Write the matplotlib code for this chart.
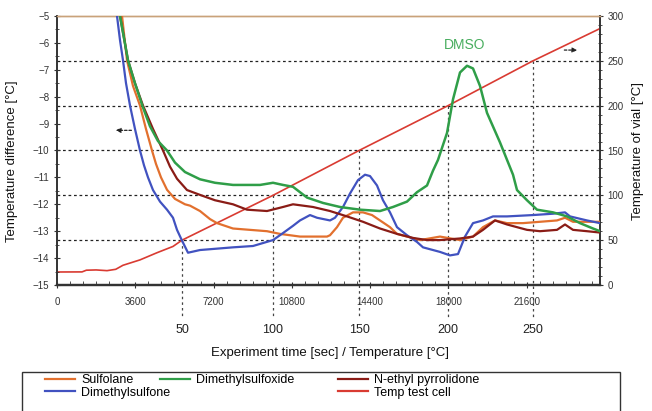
import numpy as np
import matplotlib
matplotlib.use('Agg')
import matplotlib.pyplot as plt
from matplotlib.patches import Rectangle
from matplotlib.lines import Line2D
from matplotlib.ticker import MultipleLocator

plt.rcParams['font.family'] = ['Liberation Sans', 'DejaVu Sans']

# ---- data (time in seconds, temperature difference in degC) ----
sulfolane_t = [2851, 2989, 3219, 3494, 3816, 4092, 4368, 4552, 4782, 5058, 5426, 5885,
               6115, 6575, 7035, 7357, 8092, 9656, 10254,
               11173, 12415, 12553, 12874, 13150, 13610, 14070, 14484, 14852, 15311,
               15633, 16093, 16691, 17610, 18530, 19128, 19587, 20139, 20691, 21427,
               22208, 22990, 23358, 23726, 24967]
sulfolane_y = [-4.5, -5.0, -6.65, -7.6, -8.33, -9.2, -10.0, -10.5, -11.0, -11.46, -11.8, -12.0,
               -12.05, -12.25, -12.55, -12.7, -12.9, -13.0, -13.1,
               -13.2, -13.2, -13.15, -12.85, -12.5, -12.3, -12.3, -12.4, -12.6, -12.85,
               -13.1, -13.2, -13.33, -13.2, -13.33, -13.2, -12.85, -12.6, -12.7, -12.7,
               -12.65, -12.6, -12.5, -12.65, -12.65]

dmso2_t = [2620, 2759, 2897, 3035, 3173, 3357, 3586, 3816, 4000, 4184, 4414, 4736, 5058,
           5334, 5518, 5748, 6023, 6575, 8092,
           9012, 9932, 10391, 10851, 11173, 11633, 11955, 12553, 12782, 13150, 13472,
           13840, 14162, 14392, 14714, 14989, 15311, 15633, 16093, 16553, 16829, 17610,
           18070, 18438, 18760, 19128, 19587, 20047, 20691, 21886, 22806, 23358, 23588,
           24369, 24967]
dmso2_y = [-4.5, -5.0, -5.9, -6.65, -7.5, -8.33, -9.2, -10.0, -10.55, -11.0, -11.47, -11.9, -12.2,
           -12.5, -12.95, -13.35, -13.8, -13.7, -13.6,
           -13.55, -13.33, -13.07, -12.8, -12.6, -12.4, -12.5, -12.6, -12.5, -12.1, -11.6,
           -11.1, -10.9, -10.95, -11.3, -11.85, -12.3, -12.85, -13.15, -13.4, -13.6, -13.77,
           -13.9, -13.85, -13.2, -12.7, -12.6, -12.45, -12.45, -12.4, -12.35, -12.3, -12.45,
           -12.6, -12.7]

dmso_t = [2805, 2897, 3265, 3586, 3954, 4276, 4644, 5058, 5426, 5885, 6575, 7265, 8092,
          9334, 9932, 10391, 10851,
          11495, 12231, 13012, 13932, 14852, 15449, 16093, 16553, 17013, 17288, 17518,
          17932, 18208, 18530, 18852, 19128, 19450, 19771, 20369, 20967, 21151, 21611,
          22070, 22806, 23450, 24048, 24645, 24967]
dmso_y = [-4.5, -5.0, -6.65, -7.5, -8.4, -9.1, -9.65, -10.0, -10.45, -10.8, -11.07, -11.2, -11.28,
          -11.28, -11.2, -11.28, -11.35,
          -11.75, -11.95, -12.1, -12.2, -12.25, -12.1, -11.9, -11.55, -11.3, -10.75, -10.35,
          -9.35, -8.1, -7.1, -6.85, -6.95, -7.6, -8.6, -9.7, -10.9, -11.47, -11.85,
          -12.2, -12.3, -12.45, -12.7, -12.9, -13.0]

nep_t = [2805, 2897, 3265, 3586, 3954, 4414, 4874, 5196, 5518, 5977, 6575, 7265, 8092,
         8736, 9656, 10391, 10851,
         11771, 12553, 13334, 14070, 14852, 15633, 16369, 17013, 17610, 18530, 19128,
         19587, 20139, 20691, 21611, 22208, 22990, 23358, 23726, 24369, 24967]
nep_y = [-4.5, -5.0, -6.65, -7.5, -8.33, -9.2, -10.0, -10.6, -11.05, -11.47, -11.65, -11.85, -12.0,
         -12.2, -12.25, -12.1, -12.0,
         -12.1, -12.25, -12.45, -12.65, -12.9, -13.1, -13.25, -13.33, -13.33, -13.27, -13.2,
         -12.95, -12.6, -12.75, -12.95, -13.0, -12.95, -12.75, -12.95, -13.0, -13.05]

# test cell temperature (right axis, degC)
cell_t = [0, 1150, 1350, 1800, 2300, 2700, 3034, 3816, 4598, 5333, 5748, 9932, 13886,
          17979, 21887, 24967]
cell_T = [14.5, 14.6, 16.5, 16.8, 16.0, 17.5, 22, 28, 36, 43, 50, 100, 150, 200, 250, 286]

time_ticks = [0, 3600, 7200, 10800, 14400, 18000, 21600]
temp_marks = [50, 100, 150, 200, 250]

c_orange = '#e2702e'
c_blue = '#4152c0'
c_green = '#2f9e48'
c_dred = '#8a1c16'
c_red = '#d93b32'

fig = plt.figure(figsize=(6.52, 4.11), dpi=100)
ax = fig.add_axes([57 / 652, 1 - 285 / 411, 543 / 652, 269 / 411])
ax2 = ax.twinx()

ax.set_xlim(0, 24967)
ax.set_ylim(-15, -5)
ax2.set_ylim(0, 300)

# dashed guide lines
for T in temp_marks:
    ax2.axhline(T, color='#222222', lw=0.9, ls=(0, (2.2, 2.2)), zorder=1)
mark_times = np.interp(temp_marks, cell_T, cell_t)
for t, T in zip(mark_times, temp_marks):
    ax2.plot([t, t], [T, -36], color='#444444', lw=0.9, ls=(0, (2, 2.5)),
             clip_on=False, zorder=1)
    ax.text(t, -0.167, str(T), transform=ax.get_xaxis_transform(),
            ha='center', va='center', fontsize=9, color='#222222')

ax2.plot(cell_t, cell_T, color=c_red, lw=1.2, zorder=3)

ax.plot(sulfolane_t, sulfolane_y, color=c_orange, lw=1.6, zorder=4)
ax.plot(dmso2_t, dmso2_y, color=c_blue, lw=1.6, zorder=4)
ax.plot(nep_t, nep_y, color=c_dred, lw=1.6, zorder=4)
ax.plot(dmso_t, dmso_y, color=c_green, lw=1.8, zorder=4)

ax.set_zorder(ax2.get_zorder() + 1)
ax.patch.set_visible(False)

# arrows and annotation
ax.annotate('', xy=(2575, -9.25), xytext=(3550, -9.25),
            arrowprops=dict(arrowstyle='-|>', ls=(0, (2, 1.5)), color='#222222', lw=0.9,
                            mutation_scale=7))
ax2.annotate('', xy=(24048, 262), xytext=(23200, 262),
             arrowprops=dict(arrowstyle='-|>', ls=(0, (2, 1.5)), color='#222222', lw=0.9,
                             mutation_scale=7))
ax.text(18760, -6.08, 'DMSO', color='#48ad5e', fontsize=10, ha='center', va='center')

# ticks
ax.set_xticks(time_ticks)
ax.xaxis.set_minor_locator(MultipleLocator(600))
ax.set_yticks(np.arange(-15, -4.5, 1))
ax.yaxis.set_minor_locator(MultipleLocator(0.5))
ax2.set_yticks(np.arange(0, 301, 50))
ax2.yaxis.set_minor_locator(MultipleLocator(10))
ax.tick_params(axis='x', which='major', direction='inout', length=5, labelsize=7,
               colors='#333333', pad=6)
ax.tick_params(axis='x', which='minor', direction='in', length=3, color='#333333')
ax.tick_params(axis='y', which='major', direction='inout', length=5, labelsize=7,
               colors='#333333', pad=3)
ax.tick_params(axis='y', which='minor', direction='inout', length=3, color='#333333')
ax2.tick_params(axis='y', which='major', direction='inout', length=5, labelsize=7,
                colors='#333333', pad=3)
ax2.tick_params(axis='y', which='minor', direction='inout', length=3, color='#333333')

for a in (ax, ax2):
    a.spines['top'].set_color('#c9a27a')
    a.spines['top'].set_linewidth(1.0)
    a.spines['bottom'].set_color('#333333')
    a.spines['bottom'].set_linewidth(1.6)
    a.spines['left'].set_color('#333333')
    a.spines['left'].set_linewidth(1.2)
    a.spines['right'].set_color('#333333')
    a.spines['right'].set_linewidth(1.2)

ax.text(0.503, -0.253, 'Experiment time [sec] / Temperature [\u00b0C]',
        transform=ax.transAxes, ha='center', va='center', fontsize=9.5, color='#111111')
fig.text(12 / 652, 1 - 161 / 411, 'Temperature difference [\u00b0C]', rotation=90,
         ha='center', va='center', fontsize=9.5, color='#111111')
fig.text(638 / 652, 1 - 151 / 411, 'Temperature of vial [\u00b0C]', rotation=90,
         ha='center', va='center', fontsize=9.5, color='#111111')

# legend box at bottom
fig.add_artist(Rectangle((22 / 652, -0.02), 598 / 652, (411 - 372) / 411 + 0.02,
                         transform=fig.transFigure, fill=False, lw=1.0, ec='#333333'))
leg_kw = dict(frameon=False, fontsize=9, handlelength=2.4, handletextpad=0.5,
              labelspacing=0.05, borderpad=0, borderaxespad=0, loc='upper left')
col1 = [Line2D([], [], color=c_orange, lw=1.6), Line2D([], [], color=c_blue, lw=1.6)]
col2 = [Line2D([], [], color=c_green, lw=1.6)]
col3 = [Line2D([], [], color=c_dred, lw=1.6), Line2D([], [], color=c_red, lw=1.6)]
l1 = fig.legend(col1, ['Sulfolane', 'Dimethylsulfone'],
                bbox_to_anchor=(45 / 652, 1 - 374 / 411), **leg_kw)
l2 = fig.legend(col2, ['Dimethylsulfoxide'],
                bbox_to_anchor=(160 / 652, 1 - 374 / 411), **leg_kw)
l3 = fig.legend(col3, ['N-ethyl pyrrolidone', 'Temp test cell'],
                bbox_to_anchor=(338 / 652, 1 - 374 / 411), **leg_kw)

fig.savefig('out.png', dpi=100)
